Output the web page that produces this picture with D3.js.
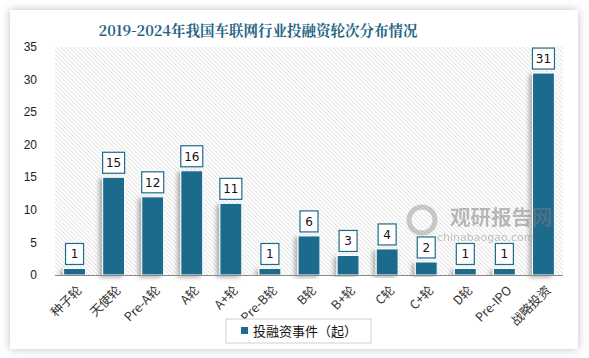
<!DOCTYPE html>
<html><head><meta charset="utf-8">
<script src="https://cdn.jsdelivr.net/npm/d3@7"></script>
<style>body{margin:0;background:#fff}svg{display:block}</style>
</head><body><svg id="c" width="589" height="358"></svg>
<script>
const categories = ["种子轮","天使轮","Pre-A轮","A轮","A+轮","Pre-B轮","B轮","B+轮","C轮","C+轮","D轮","Pre-IPO","战略投资"];
const values = [1,15,12,16,11,1,6,3,4,2,1,1,31];
const yTicks = [0,5,10,15,20,25,30,35];
const title = "2019-2024年我国车联网行业投融资轮次分布情况";
const seriesName = "投融资事件（起）";

const svg = d3.select("#c");
const defs = svg.append("defs");
const f = defs.append("filter").attr("id","card").attr("x","-10%").attr("y","-10%").attr("width","120%").attr("height","120%");
f.append("feDropShadow").attr("dx",0).attr("dy",0).attr("stdDeviation",5).attr("flood-color","#000").attr("flood-opacity",0.25);
const fb = defs.append("filter").attr("id","bar").attr("x","-60%").attr("y","-10%").attr("width","220%").attr("height","120%");
fb.append("feDropShadow").attr("dx",-3).attr("dy",2).attr("stdDeviation",2).attr("flood-color","#000").attr("flood-opacity",0.3);
const pat = defs.append("pattern").attr("id","hatch").attr("patternUnits","userSpaceOnUse").attr("width",3).attr("height",3).attr("patternTransform","rotate(-45)");
pat.append("rect").attr("width",3).attr("height",3).attr("fill","#fff");
pat.append("line").attr("x1",0).attr("y1",0).attr("x2",0).attr("y2",3).attr("stroke","#d2d2d2").attr("stroke-width",1.2);

svg.append("rect").attr("x",10).attr("y",10).attr("width",568).attr("height",339).attr("fill","#fff").attr("filter","url(#card)");

const m = {l:55, r:563, t:47, b:275};
const x = d3.scaleBand().domain(categories).range([m.l,m.r]).paddingInner(0.44).paddingOuter(0.22);
const y = d3.scaleLinear().domain([0,35]).range([m.b,m.t]);

svg.append("rect").attr("x",m.l).attr("y",m.t).attr("width",m.r-m.l).attr("height",m.b-m.t).attr("fill","url(#hatch)");

svg.append("text").attr("x",258).attr("y",36).attr("text-anchor","middle")
  .attr("font-family","'Noto Serif CJK SC','Noto Sans CJK SC',serif").attr("font-weight","bold").attr("font-size",14.5)
  .attr("fill","#1f6584").text(title);

// y axis labels
svg.append("g").selectAll("text").data(yTicks).join("text")
  .attr("x",37).attr("y",d=>y(d)).attr("dy","0.35em").attr("text-anchor","end")
  .attr("font-family","'Liberation Sans',Arial,sans-serif").attr("font-size",12).attr("fill","#222").text(d=>d);

// bars
svg.append("g").selectAll("rect").data(values).join("rect")
  .attr("x",(d,i)=>x(categories[i])).attr("y",d=>y(d)).attr("width",x.bandwidth()).attr("height",d=>m.b-y(d))
  .attr("fill","#1d6b8c").attr("stroke","#fff").attr("stroke-width",1).attr("filter","url(#bar)");

// watermark (drawn over)
const wm = svg.append("g").attr("opacity",0.5);
wm.append("text").attr("x",450).attr("y",225).attr("font-family","Noto Sans CJK SC").attr("font-weight","bold").attr("font-size",20.5).attr("fill","#7a7a7a").text("观研报告网");
wm.append("text").attr("x",437).attr("y",241).attr("font-family","DejaVu Sans").attr("font-size",11).attr("fill","#8a8a8a").text("chinabaogao.com");
wm.append("circle").attr("cx",422).attr("cy",220).attr("r",13).attr("fill","none").attr("stroke","#999").attr("stroke-width",5);

// x axis line
svg.append("line").attr("x1",m.l).attr("x2",m.r).attr("y1",m.b+0.5).attr("y2",m.b+0.5).attr("stroke","#8a8a8a").attr("stroke-width",1.2);

// labels
const lg = svg.append("g").selectAll("g").data(values).join("g")
  .attr("transform",(d,i)=>`translate(${x(categories[i])+x.bandwidth()/2},${y(d)-4})`);
lg.append("rect").attr("x",d=>d>=10?-11:-9).attr("y",-21).attr("width",d=>d>=10?22:18).attr("height",21)
  .attr("fill","#fff").attr("stroke","#1f6b8c").attr("stroke-width",1.2);
lg.append("text").attr("y",-10.5).attr("dy","0.36em").attr("text-anchor","middle")
  .attr("font-family","'DejaVu Sans',sans-serif").attr("font-size",12).attr("fill","#111").text(d=>d);

// x labels
svg.append("g").selectAll("text").data(categories).join("text")
  .attr("transform",d=>`translate(${x(d)+x.bandwidth()/2+5},${m.b+13}) rotate(-45)`)
  .attr("text-anchor","end").attr("dy","0.35em")
  .attr("font-family","'Noto Sans CJK SC','DejaVu Sans',sans-serif").attr("font-size",12.5).attr("fill","#333").text(d=>d);

// legend
svg.append("rect").attr("x",226).attr("y",319).attr("width",145).attr("height",24).attr("fill","#fff").attr("stroke","#d0d0d0");
svg.append("rect").attr("x",241).attr("y",327).attr("width",7).attr("height",7).attr("fill","#1d6b8c");
svg.append("text").attr("x",253).attr("y",331).attr("dy","0.35em").attr("font-family","'Noto Sans CJK SC',sans-serif").attr("font-size",13).attr("fill","#111").text(seriesName);
</script></body></html>
